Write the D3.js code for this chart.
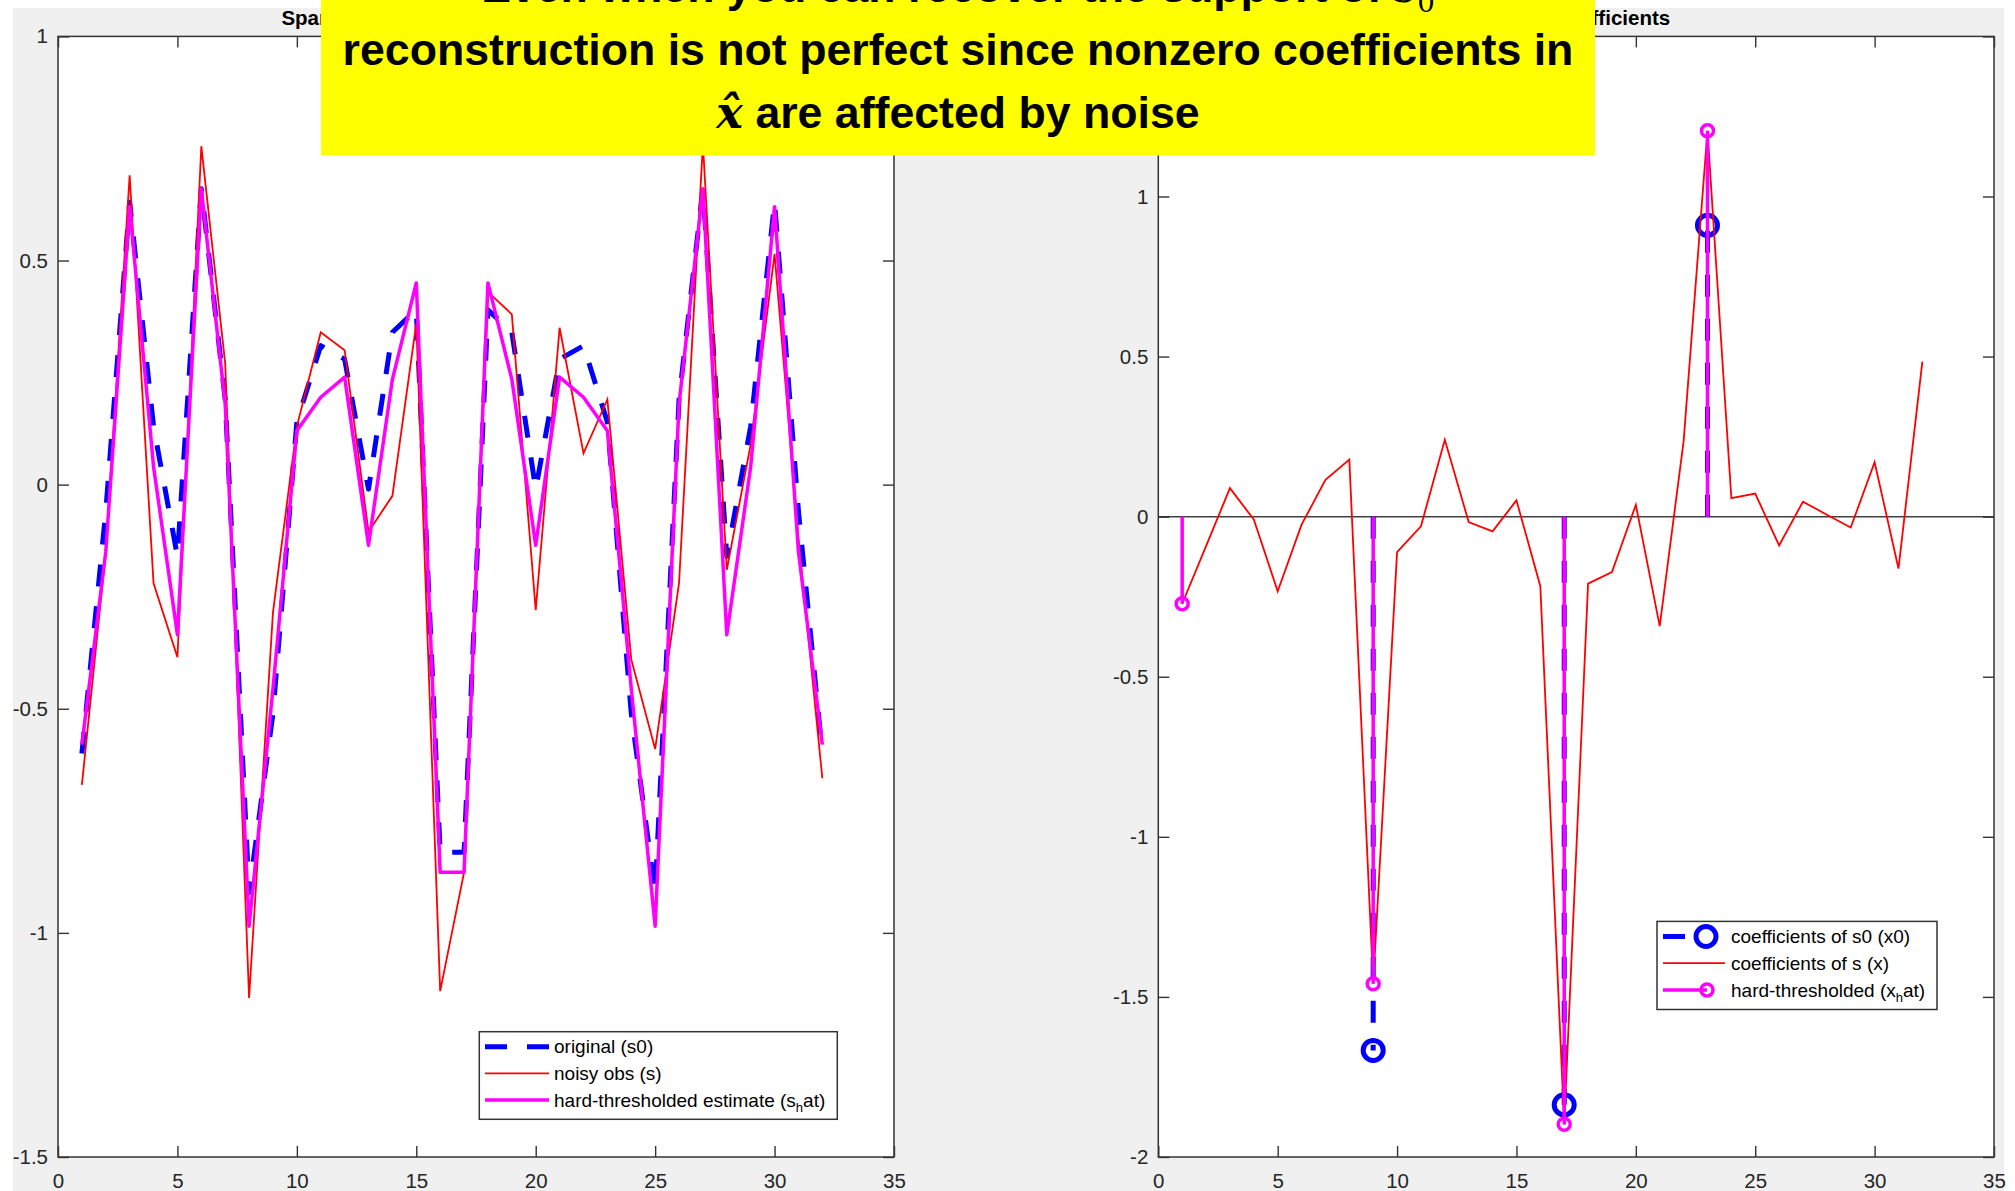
<!DOCTYPE html>
<html>
<head>
<meta charset="utf-8">
<script src="https://cdn.jsdelivr.net/npm/d3@7"></script>
<style>
  html, body { margin: 0; padding: 0; background: #ffffff; }
  svg { display: block; }
  text { font-family: "Liberation Sans", Arial, Helvetica, sans-serif; }
</style>
</head>
<body>
<svg id="fig" width="2015" height="1191"></svg>
<script>
// ---- data ----------------------------------------------------------------
// sample index (1..32) shared by both panels
const sampleIndex = d3.range(1, 33);

// time-domain signals
const originalSignal = [-0.60, -0.06, 0.63, 0.13, -0.16, 0.66, 0.19, -0.91, -0.51, 0.14, 0.31, 0.28, -0.01, 0.34, 0.39, -0.82,
                        -0.82, 0.39, 0.34, -0.01, 0.28, 0.31, 0.14, -0.51, -0.91, 0.19, 0.66, -0.16, 0.13, 0.63, -0.06, -0.60];
const noisySignal    = [-0.67, -0.15, 0.69, -0.22, -0.385, 0.755, 0.27, -1.145, -0.285, 0.13, 0.34, 0.30, -0.105, -0.025, 0.36, -1.13,
                        -0.865, 0.43, 0.38, -0.28, 0.35, 0.07, 0.19, -0.39, -0.59, -0.22, 0.76, -0.19, 0.09, 0.515, -0.12, -0.655];
const estimateSignal = [-0.58, -0.15, 0.62, 0.04, -0.335, 0.66, 0.18, -0.985, -0.455, 0.12, 0.195, 0.24, -0.135, 0.235, 0.45, -0.865,
                        -0.865, 0.45, 0.235, -0.135, 0.24, 0.195, 0.12, -0.455, -0.985, 0.18, 0.66, -0.335, 0.04, 0.62, -0.15, -0.58];

// transform coefficients
const noisyCoeffs = [-0.272, -0.092, 0.089, -0.009, -0.233, -0.025, 0.115, 0.178, -1.459, -0.111, -0.030, 0.240, -0.017, -0.046, 0.051, -0.217,
                     -1.898, -0.209, -0.173, 0.037, -0.342, 0.235, 1.205, 0.058, 0.072, -0.090, 0.047, 0.006, -0.034, 0.170, -0.162, 0.484];
const originalSupport = [9, 17, 23];
const originalCoeffs  = [-1.667, -1.837, 0.910];
const keptSupport = [1, 9, 17, 23];
const keptCoeffs  = [-0.272, -1.459, -1.898, 1.205];

// axes ticks
const xTicks = [0, 5, 10, 15, 20, 25, 30, 35];
const leftYTicks = [-1.5, -1, -0.5, 0, 0.5, 1];
const rightYTicks = [-2, -1.5, -1, -0.5, 0, 0.5, 1, 1.5];

// titles and legend labels (underscore = subscript of next character)
const leftTitle = "Sparse signals: original, noisy, estimate";
const rightTitle = "Sparse coefficients";
const leftLegendLabels = ["original (s0)", "noisy obs (s)", "hard-thresholded estimate (s_hat)"];
const rightLegendLabels = ["coefficients of s0 (x0)", "coefficients of s (x)", "hard-thresholded (x_hat)"];

// callout text
const noteLine1 = "Even when you can recover the support of ";
const noteLine2 = "reconstruction is not perfect since nonzero coefficients in";
const noteLine3 = " are affected by noise";

// ---- styles --------------------------------------------------------------
const BLUE = "#0000ff", RED = "#ff0000", MAGENTA = "#ff00ff";
const AXIS = "#333333", LABEL = "#262626";

const fig = d3.select("#fig");

// figure background
fig.append("rect").attr("x", 13).attr("y", 8).attr("width", 1991).attr("height", 1183).attr("fill", "#f0f0f0");

const fmt = d => String(d);

function makePanel(box, yDomain, yTicks, title) {
  const g = fig.append("g");
  const x = d3.scaleLinear([0, 35], [box.left, box.right]);
  const y = d3.scaleLinear(yDomain, [box.bottom, box.top]);
  g.append("rect")
    .attr("x", box.left).attr("y", box.top)
    .attr("width", box.right - box.left).attr("height", box.bottom - box.top)
    .attr("fill", "#ffffff");
  const data = g.append("g");

  const axes = fig.append("g").attr("class", "axes");
  const styleAxis = sel => {
    sel.select(".domain").remove();
    sel.selectAll(".tick line").attr("stroke", AXIS).attr("stroke-width", 1.4);
    sel.selectAll(".tick text").attr("fill", LABEL).attr("font-size", 20.5)
      .attr("font-family", "'Liberation Sans', Arial, sans-serif");
  };
  axes.append("g").attr("transform", `translate(0,${box.bottom})`)
    .call(d3.axisBottom(x).tickValues(xTicks).tickFormat(fmt).tickSizeInner(-11).tickSizeOuter(0).tickPadding(16))
    .call(styleAxis);
  axes.append("g").attr("transform", `translate(0,${box.top})`)
    .call(d3.axisTop(x).tickValues(xTicks).tickFormat(() => "").tickSizeInner(-11).tickSizeOuter(0))
    .call(styleAxis);
  axes.append("g").attr("transform", `translate(${box.left},0)`)
    .call(d3.axisLeft(y).tickValues(yTicks).tickFormat(fmt).tickSizeInner(-11).tickSizeOuter(0).tickPadding(10))
    .call(styleAxis);
  axes.append("g").attr("transform", `translate(${box.right},0)`)
    .call(d3.axisRight(y).tickValues(yTicks).tickFormat(() => "").tickSizeInner(-11).tickSizeOuter(0))
    .call(styleAxis);
  axes.append("rect")
    .attr("x", box.left).attr("y", box.top)
    .attr("width", box.right - box.left).attr("height", box.bottom - box.top)
    .attr("fill", "none").attr("stroke", AXIS).attr("stroke-width", 1.5);

  fig.append("text")
    .attr("x", (box.left + box.right) / 2).attr("y", 25)
    .attr("text-anchor", "middle").attr("font-weight", "bold").attr("font-size", 20.5)
    .attr("fill", "#000").text(title);
  return { x, y, data };
}

// writes a label, turning "_c" into a subscript c (only that one character)
function texLabel(textSel, str) {
  const parts = str.split(/_(.)/);
  let shiftBack = 0;
  parts.forEach((p, k) => {
    if (!p) return;
    if (k % 2 === 1) {
      textSel.append("tspan").attr("font-size", 13).attr("dy", 5).text(p);
      shiftBack = -5;
    } else {
      const ts = textSel.append("tspan").text(p);
      if (shiftBack) { ts.attr("dy", shiftBack); shiftBack = 0; }
    }
  });
}

function legendBox(box, rows, labels, textX) {
  const g = fig.append("g");
  g.append("rect")
    .attr("x", box.x0).attr("y", box.y0)
    .attr("width", box.x1 - box.x0).attr("height", box.y1 - box.y0)
    .attr("fill", "#ffffff").attr("stroke", AXIS).attr("stroke-width", 1.5);
  labels.forEach((lab, k) => {
    const t = g.append("text").attr("x", textX).attr("y", rows[k]).attr("dy", "0.35em")
      .attr("font-size", 19).attr("fill", "#000");
    texLabel(t, lab);
  });
  return g;
}

// ---- left panel: signals -------------------------------------------------
const L = makePanel({ left: 58, top: 36.4, right: 894, bottom: 1157 }, [-1.5, 1], leftYTicks, leftTitle);
const lineOf = (p) => d3.line().x((d, i) => p.x(sampleIndex[i])).y(d => p.y(d));

L.data.append("path").datum(originalSignal).attr("d", lineOf(L))
  .attr("fill", "none").attr("stroke", BLUE).attr("stroke-width", 5)
  .attr("stroke-dasharray", "22,20").attr("stroke-linejoin", "round");
L.data.append("path").datum(noisySignal).attr("d", lineOf(L))
  .attr("fill", "none").attr("stroke", RED).attr("stroke-width", 1.8).attr("stroke-linejoin", "miter");
L.data.append("path").datum(estimateSignal).attr("d", lineOf(L))
  .attr("fill", "none").attr("stroke", MAGENTA).attr("stroke-width", 3.5).attr("stroke-linejoin", "round");

// ---- right panel: coefficients -------------------------------------------
const R = makePanel({ left: 1158.3, top: 36.4, right: 1994, bottom: 1157 }, [-2, 1.5], rightYTicks, rightTitle);

R.data.append("line")
  .attr("x1", R.x(0)).attr("x2", R.x(35)).attr("y1", R.y(0)).attr("y2", R.y(0))
  .attr("stroke", "#404040").attr("stroke-width", 1.5);

const blueStems = R.data.append("g");
originalSupport.forEach((idx, k) => {
  blueStems.append("line")
    .attr("x1", R.x(idx)).attr("x2", R.x(idx)).attr("y1", R.y(0)).attr("y2", R.y(originalCoeffs[k]))
    .attr("stroke", BLUE).attr("stroke-width", 5).attr("stroke-dasharray", "22,22");
  blueStems.append("circle")
    .attr("cx", R.x(idx)).attr("cy", R.y(originalCoeffs[k])).attr("r", 10)
    .attr("fill", "none").attr("stroke", BLUE).attr("stroke-width", 5);
});

R.data.append("path").datum(noisyCoeffs).attr("d", lineOf(R))
  .attr("fill", "none").attr("stroke", RED).attr("stroke-width", 1.8);

const magStems = R.data.append("g");
keptSupport.forEach((idx, k) => {
  magStems.append("line")
    .attr("x1", R.x(idx)).attr("x2", R.x(idx)).attr("y1", R.y(0)).attr("y2", R.y(keptCoeffs[k]))
    .attr("stroke", MAGENTA).attr("stroke-width", 3.5);
  magStems.append("circle")
    .attr("cx", R.x(idx)).attr("cy", R.y(keptCoeffs[k])).attr("r", 6)
    .attr("fill", "none").attr("stroke", MAGENTA).attr("stroke-width", 3.5);
});

// ---- legends -------------------------------------------------------------
const leftRows = [1046.7, 1073.3, 1100];
const lg = legendBox({ x0: 479.3, y0: 1031.7, x1: 837.3, y1: 1119.3 }, leftRows, leftLegendLabels, 554);
lg.append("line").attr("x1", 485).attr("x2", 549).attr("y1", leftRows[0]).attr("y2", leftRows[0])
  .attr("stroke", BLUE).attr("stroke-width", 5).attr("stroke-dasharray", "22,20");
lg.append("line").attr("x1", 485).attr("x2", 549).attr("y1", leftRows[1]).attr("y2", leftRows[1])
  .attr("stroke", RED).attr("stroke-width", 1.8);
lg.append("line").attr("x1", 485).attr("x2", 549).attr("y1", leftRows[2]).attr("y2", leftRows[2])
  .attr("stroke", MAGENTA).attr("stroke-width", 3.5);

const rightRows = [936.5, 963.2, 989.9];
const rg = legendBox({ x0: 1657, y0: 921.4, x1: 1937, y1: 1009.5 }, rightRows, rightLegendLabels, 1731);
rg.append("line").attr("x1", 1663).attr("x2", 1706).attr("y1", rightRows[0]).attr("y2", rightRows[0])
  .attr("stroke", BLUE).attr("stroke-width", 5).attr("stroke-dasharray", "22,22");
rg.append("circle").attr("cx", 1706).attr("cy", rightRows[0]).attr("r", 10)
  .attr("fill", "none").attr("stroke", BLUE).attr("stroke-width", 5);
rg.append("line").attr("x1", 1663).attr("x2", 1725).attr("y1", rightRows[1]).attr("y2", rightRows[1])
  .attr("stroke", RED).attr("stroke-width", 1.8);
rg.append("line").attr("x1", 1663).attr("x2", 1707).attr("y1", rightRows[2]).attr("y2", rightRows[2])
  .attr("stroke", MAGENTA).attr("stroke-width", 3.5);
rg.append("circle").attr("cx", 1707).attr("cy", rightRows[2]).attr("r", 6)
  .attr("fill", "none").attr("stroke", MAGENTA).attr("stroke-width", 3.5);

// ---- yellow callout ------------------------------------------------------
const note = fig.append("g");
note.append("rect").attr("x", 321).attr("y", -2).attr("width", 1274).attr("height", 157.5).attr("fill", "#ffff00");
const noteFont = "Lato, 'Liberation Sans', sans-serif";
const noteCx = 958;

// size the callout font so the middle line spans the box
const probe = note.append("text").attr("font-family", noteFont).attr("font-weight", 700)
  .attr("font-size", 46).text(noteLine2);
const noteSize = 46 * 1231 / probe.node().getComputedTextLength();
probe.remove();

const t1 = note.append("text").attr("x", noteCx).attr("y", 2).attr("text-anchor", "middle")
  .attr("font-family", noteFont).attr("font-weight", 700).attr("font-size", noteSize).attr("fill", "#000");
t1.append("tspan").text(noteLine1);
t1.append("tspan").attr("font-family", "'DejaVu Serif', serif").attr("font-style", "italic").attr("font-weight", 400).text("s");
t1.append("tspan").attr("font-family", "'DejaVu Serif', serif").attr("font-weight", 400)
  .attr("font-size", noteSize * 0.62).attr("dy", noteSize * 0.22).text("0");

note.append("text").attr("x", noteCx).attr("y", 65).attr("text-anchor", "middle")
  .attr("font-family", noteFont).attr("font-weight", 700).attr("font-size", noteSize).attr("fill", "#000")
  .text(noteLine2);

const t3 = note.append("text").attr("x", noteCx).attr("y", 128).attr("text-anchor", "middle")
  .attr("font-family", noteFont).attr("font-weight", 700).attr("font-size", noteSize).attr("fill", "#000");
t3.append("tspan").attr("font-family", "'DejaVu Serif', serif").attr("font-style", "italic").attr("font-weight", 700)
  .text("x\u0302");
t3.append("tspan").text(noteLine3);
</script>
</body>
</html>
